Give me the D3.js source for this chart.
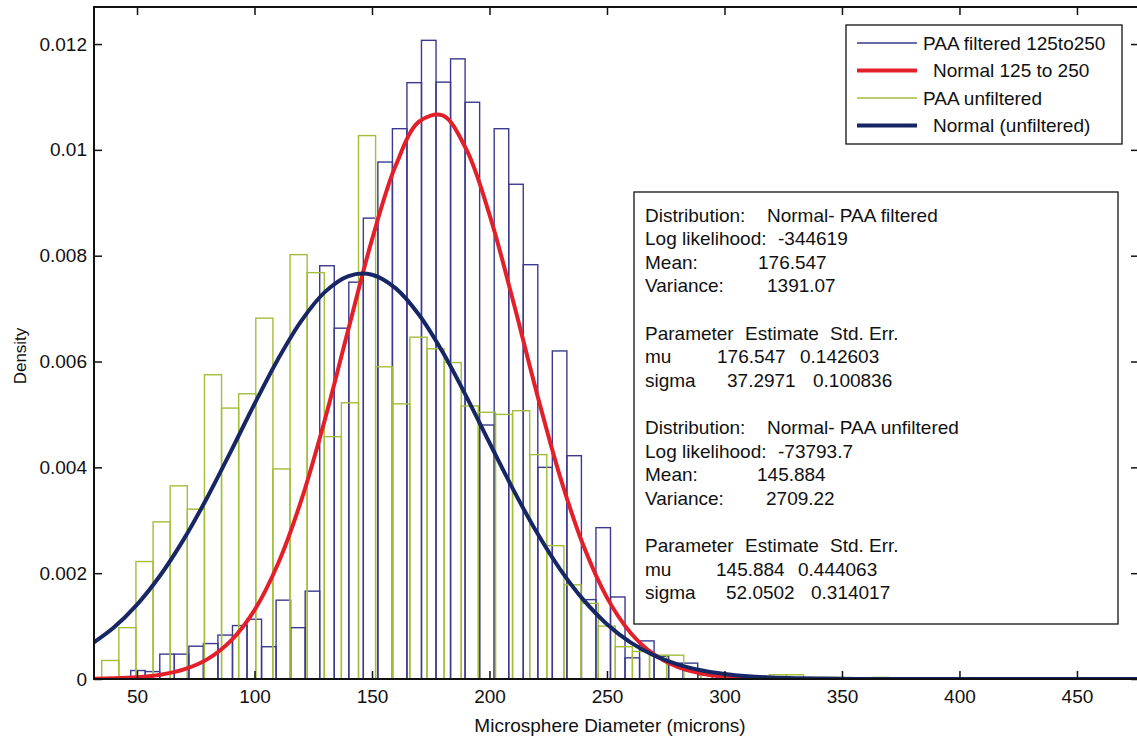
<!DOCTYPE html>
<meta charset="utf-8">

<!-- Load d3.js -->
<script src="https://d3js.org/d3.v7.min.js"></script>

<style>
  body { margin: 0; background: #fff; }
  text { font-family: "Liberation Sans", Arial, sans-serif; fill: #111; }
</style>

<div id="my_dataviz"></div>

<script>

// ---- data ----

// PAA filtered 125to250: bin edges (microns) and density of each bin
let filteredEdges = [47.32, 53.51, 59.69, 65.88, 72.07, 78.26, 84.44, 90.63, 96.82, 103.00,
  109.19, 115.38, 121.56, 127.75, 133.94, 140.13, 146.31, 152.50, 158.69, 164.87,
  171.06, 177.25, 183.43, 189.62, 195.81, 202.00, 208.18, 214.37, 220.56, 226.74,
  232.93, 239.12, 245.30, 251.49, 257.68, 263.87, 270.05, 276.24, 282.43, 288.61, 294.80];
let filteredDensity = [0.00016, 0.00014, 0.00047, 0.00047, 0.00062, 0.00067, 0.00083, 0.00101, 0.00113, 0.00061,
  0.00149, 0.00097, 0.00166, 0.00781, 0.00663, 0.00750, 0.00871, 0.00977, 0.01040, 0.01127,
  0.01207, 0.01128, 0.01172, 0.01090, 0.00480, 0.01040, 0.00935, 0.00783, 0.00400, 0.00620,
  0.00422, 0.00150, 0.00286, 0.00155, 0.00040, 0.00072, 0.00043, 0.00030, 0.00030, 0.00008];

// PAA unfiltered
let unfilteredEdges = [34.98, 42.27, 49.55, 56.84, 64.12, 71.41, 78.69, 85.98, 93.26, 100.55,
  107.83, 115.12, 122.40, 129.69, 136.97, 144.26, 151.54, 158.83, 166.11, 173.40,
  180.68, 187.97, 195.25, 202.54, 209.82, 217.11, 224.39, 231.68, 238.96, 246.25,
  253.53, 260.82, 268.10, 275.39, 282.67, 289.96, 297.24, 304.53, 311.81, 319.10,
  326.38, 333.67, 340.95, 348.24, 355.52, 362.81, 370.09, 377.38];
let unfilteredDensity = [0.00035, 0.00097, 0.00222, 0.00297, 0.00365, 0.00321, 0.00575, 0.00512, 0.00539, 0.00682,
  0.00397, 0.00802, 0.00768, 0.00458, 0.00522, 0.01027, 0.00590, 0.00520, 0.00646, 0.00624,
  0.00598, 0.00516, 0.00504, 0.00500, 0.00507, 0.00424, 0.00252, 0.00178, 0.00143, 0.00100,
  0.00061, 0.00052, 0.00045, 0.00045, 0.00018, 0.00012, 0.00006, 0.00003, 0.00003, 0.00008,
  0.00008, 0.00002, 0.00003, 0.00002, 0.00001, 0.00003, 0.00001];

// fitted normal curves, sampled along the diameter axis
let curveX = [30, 40, 50, 60, 70, 80, 90, 100, 110, 120, 130, 140, 150, 160, 170, 180, 190, 200,
  210, 220, 230, 240, 250, 260, 270, 280, 290, 300, 310, 320, 330, 340, 350, 360, 370, 380,
  390, 400, 410, 420, 430, 440, 450, 460, 470, 480];
let normalFiltered = [0.0000048, 0.0000131, 0.0000338, 0.0000810, 0.0001808, 0.0003751, 0.0007246, 0.0013019,
  0.0021778, 0.0033893, 0.0049092, 0.0066181, 0.0083029, 0.0096936, 0.0105327, 0.0106504, 0.0100226,
  0.0087775, 0.0071538, 0.0054259, 0.0038303, 0.0025162, 0.0015381, 0.0008752, 0.0004634, 0.0002284,
  0.0001047, 0.0000447, 0.0000178, 0.0000066, 0.0000022, 0, 0, 0, 0, 0, 0, 0, 0, 0, 0, 0, 0, 0, 0, 0];
let normalUnfiltered = [0.0006429, 0.0009679, 0.0014048, 0.0019648, 0.0026482, 0.0034401, 0.0043071, 0.0051968,
  0.0060436, 0.0067731, 0.0073158, 0.0076157, 0.0076406, 0.0073878, 0.0068845, 0.0061831, 0.0053518,
  0.0044645, 0.0035892, 0.0027811, 0.0020769, 0.0014947, 0.0010367, 0.0006931, 0.0004465, 0.0002772,
  0.0001660, 0.0000957, 0.0000532, 0.0000285, 0.0000147, 0.0000073, 0.0000035, 0.0000016,
  0, 0, 0, 0, 0, 0, 0, 0, 0, 0, 0, 0];

let xTicks = [50, 100, 150, 200, 250, 300, 350, 400, 450];
let yTicks = [0, 0.002, 0.004, 0.006, 0.008, 0.01, 0.012];
let yTickLabels = ["0", "0.002", "0.004", "0.006", "0.008", "0.01", "0.012"];

let legendLabels = ["PAA filtered 125to250", "Normal 125 to 250", "PAA unfiltered", "Normal (unfiltered)"];

let fitText = [
  ["Distribution:", "Normal- PAA filtered"],
  ["Log likelihood:", "-344619"],
  ["Mean:", "176.547"],
  ["Variance:", "1391.07"],
  [],
  ["Parameter", "Estimate", "Std. Err."],
  ["mu", "176.547", "0.142603"],
  ["sigma", "37.2971", "0.100836"],
  [],
  ["Distribution:", "Normal- PAA unfiltered"],
  ["Log likelihood:", "-73793.7"],
  ["Mean:", "145.884"],
  ["Variance:", "2709.22"],
  [],
  ["Parameter", "Estimate", "Std. Err."],
  ["mu", "145.884", "0.444063"],
  ["sigma", "52.0502", "0.314017"]
];

// ---- layout ----
let margin = {top: 7, left: 94},
    width = 1045,
    height = 672;

// column positions of the fit report (pixels)
let fitCols = [[645, 767], [645, 778], [645, 758], [645, 767], [],
  [645, 745, 830], [645, 717, 800], [645, 727, 813], [],
  [645, 767], [645, 778], [645, 757], [645, 766], [],
  [645, 745, 830], [645, 716, 798], [645, 726, 811]];

let colBlue = "#3b3a8e",
    colRed = "#e3202a",
    colGreen = "#a2be3a",
    colNavy = "#172664";

let svg = d3.select("#my_dataviz")
  .append("svg")
    .attr("width", 1137)
    .attr("height", 742);

let g = svg.append("g")
    .attr("transform", "translate(" + margin.left + "," + margin.top + ")");

let x = d3.scaleLinear()
    .domain([31.7, 476.4])
    .range([0, width]);

let y = d3.scaleLinear()
    .domain([0, 0.0127])
    .range([height, 0]);

g.append("clipPath").attr("id", "plotclip")
  .append("rect").attr("width", width).attr("height", height);

let plot = g.append("g").attr("clip-path", "url(#plotclip)");

// histograms, outlines only
function drawHist(edges, dens, color) {
  plot.append("g")
    .selectAll("rect")
    .data(dens)
    .enter()
    .append("rect")
      .attr("x", function(d, i) { return x(edges[i]); })
      .attr("width", function(d, i) { return x(edges[i + 1]) - x(edges[i]); })
      .attr("y", function(d) { return y(d); })
      .attr("height", function(d) { return y(0) - y(d); })
      .style("fill", "none")
      .style("stroke", color)
      .style("stroke-width", 1.4);
}
drawHist(filteredEdges, filteredDensity, colBlue);
drawHist(unfilteredEdges, unfilteredDensity, colGreen);

// fitted curves
let line = d3.line()
    .x(function(d) { return x(d[0]); })
    .y(function(d) { return y(Math.max(0, d[1])); })
    .curve(d3.curveCatmullRom.alpha(0.5));

plot.append("path")
    .datum(curveX.map(function(v, i) { return [v, normalFiltered[i]]; }))
    .attr("d", line)
    .style("fill", "none")
    .style("stroke", colRed)
    .style("stroke-width", 4);

plot.append("path")
    .datum(curveX.map(function(v, i) { return [v, normalUnfiltered[i]]; }))
    .attr("d", line)
    .style("fill", "none")
    .style("stroke", colNavy)
    .style("stroke-width", 4);

// axes, ticks pointing inward on all four sides
let axisFont = function(sel) {
  sel.attr("font-size", 19).attr("font-family", "'Liberation Sans', Arial, sans-serif");
  sel.select(".domain").remove();
  sel.selectAll(".tick line").style("stroke", "#111").style("stroke-width", 1.5);
  sel.selectAll(".tick text").style("fill", "#111");
};

g.append("g")
    .attr("transform", "translate(0," + height + ")")
    .call(d3.axisBottom(x).tickValues(xTicks).tickSizeInner(-8).tickSizeOuter(0).tickPadding(11))
    .call(axisFont);

g.append("g")
    .call(d3.axisTop(x).tickValues(xTicks).tickSizeInner(-8).tickSizeOuter(0).tickFormat(""))
    .call(axisFont);

g.append("g")
    .call(d3.axisLeft(y).tickValues(yTicks).tickSizeInner(-8).tickSizeOuter(0).tickPadding(7)
      .tickFormat(function(d, i) { return yTickLabels[i]; }))
    .call(axisFont);

g.append("g")
    .attr("transform", "translate(" + width + ",0)")
    .call(d3.axisRight(y).tickValues(yTicks).tickSizeInner(-8).tickSizeOuter(0).tickFormat(""))
    .call(axisFont);

g.append("rect")
    .attr("width", width)
    .attr("height", height)
    .style("fill", "none")
    .style("stroke", "#111")
    .style("stroke-width", 2);

// axis titles
svg.append("text")
    .attr("x", 610)
    .attr("y", 732)
    .attr("text-anchor", "middle")
    .attr("font-size", 19)
    .text("Microsphere Diameter (microns)");

svg.append("text")
    .attr("transform", "translate(26,356) rotate(-90)")
    .attr("text-anchor", "middle")
    .attr("font-size", 17)
    .text("Density");

// legend
let legend = svg.append("g");
legend.append("rect")
    .attr("x", 846).attr("y", 25)
    .attr("width", 276).attr("height", 119)
    .style("fill", "#fff")
    .style("stroke", "#111")
    .style("stroke-width", 1.3);

let legendColors = [colBlue, colRed, colGreen, colNavy],
    legendWidths = [1.4, 4, 1.4, 4],
    legendTextX = [923, 933, 923, 933];

legendLabels.forEach(function(lab, i) {
  let ly = 43 + i * 27.5;
  legend.append("line")
      .attr("x1", 857).attr("x2", 917)
      .attr("y1", ly).attr("y2", ly)
      .style("stroke", legendColors[i])
      .style("stroke-width", legendWidths[i]);
  legend.append("text")
      .attr("x", legendTextX[i])
      .attr("y", ly)
      .attr("dy", "0.35em")
      .attr("font-size", 19)
      .text(lab);
});

// fit report box
let box = svg.append("g");
box.append("rect")
    .attr("x", 634).attr("y", 192)
    .attr("width", 484).attr("height", 432)
    .style("fill", "#fff")
    .style("stroke", "#111")
    .style("stroke-width", 1.3);

fitText.forEach(function(row, i) {
  row.forEach(function(s, j) {
    box.append("text")
        .attr("x", fitCols[i][j])
        .attr("y", 215 + i * 23.6)
        .attr("dy", "0.35em")
        .attr("font-size", 19)
        .text(s);
  });
});

</script>
